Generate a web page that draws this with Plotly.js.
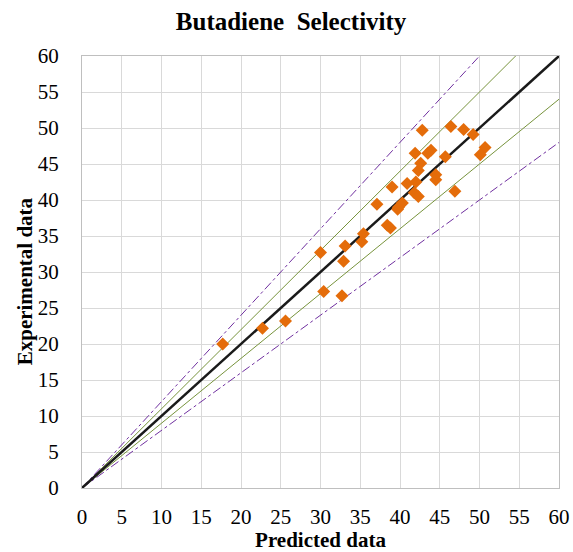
<!DOCTYPE html>
<html>
<head>
<meta charset="utf-8">
<script src="https://cdn.plot.ly/plotly-3.0.1.min.js"></script>
<style>html,body{margin:0;padding:0;background:#fff;}#chart{width:573px;height:552px;}</style>
</head>
<body>
<div id="chart"></div>
<script>
const predicted = [17.7, 22.7, 25.6, 30.0, 30.4, 32.7, 32.9, 33.1, 35.2, 35.4,
  37.1, 38.4, 38.8, 39.0, 39.7, 39.8, 40.3, 40.9, 42.0, 41.8,
  42.3, 42.3, 42.6, 41.9, 43.5, 43.9, 42.8, 44.5, 44.5, 45.7,
  46.4, 48.0, 49.2, 50.7, 50.1, 46.9];
const experimental = [20.0, 22.2, 23.2, 32.7, 27.3, 26.7, 31.5, 33.6, 34.2, 35.3,
  39.4, 36.5, 36.1, 41.8, 38.7, 39.0, 39.6, 42.3, 42.5, 41.0,
  40.5, 44.1, 45.1, 46.5, 46.5, 46.9, 49.7, 43.5, 42.8, 46.0,
  50.2, 49.8, 49.1, 47.3, 46.3, 41.2];
const lineX = [0, 60];
const idealFactor = 1.0;
const band10 = [1.1, 0.9];
const band20 = [1.2, 0.8];
const tickVals = [0,5,10,15,20,25,30,35,40,45,50,55,60];

const serif = "Liberation Serif";
const traces = [];
band20.forEach(f => traces.push({x: lineX, y: lineX.map(v => v*f), mode:'lines', type:'scatter',
  line:{color:'#7030A0', width:1, dash:'dashdot'}, hoverinfo:'skip', showlegend:false}));
band10.forEach(f => traces.push({x: lineX, y: lineX.map(v => v*f), mode:'lines', type:'scatter',
  line:{color:'#77933C', width:1}, hoverinfo:'skip', showlegend:false}));
traces.push({x: lineX, y: lineX.map(v => v*idealFactor), mode:'lines', type:'scatter',
  line:{color:'#1a1a1a', width:2.5}, showlegend:false});
traces.push({x: predicted, y: experimental, mode:'markers', type:'scatter',
  marker:{symbol:'diamond', color:'#E46C0A', size:10}, showlegend:false});

const axisCommon = {
  range:[0,60], tickvals: tickVals,
  showgrid:true, gridcolor:'#d9d9d9', gridwidth:1,
  zeroline:false, showline:true, linecolor:'#bfbfbf', linewidth:1, mirror:true,
  ticks:'outside', ticklen:0, tickcolor:'rgba(0,0,0,0)', fixedrange:true
};
const layout = {
  width:573, height:552,
  margin:{l:82, r:14, t:56, b:64},
  paper_bgcolor:'#fff', plot_bgcolor:'#fff',
  font:{family: serif, color:'#000'},
  title:{text:'<b>Butadiene  Selectivity</b>', x:0.508, xanchor:'center', y:0.962, yanchor:'middle',
    font:{family: serif, size:25, color:'#000'}},
  xaxis: Object.assign({}, axisCommon, {ticklabelstandoff:10,
    tickfont:{family: serif, size:21, color:'#000'},
    title:{text:'<b>Predicted data</b>', font:{family: serif, size:21, color:'#000'}, standoff:6}}),
  yaxis: Object.assign({}, axisCommon, {ticklabelstandoff:18,
    tickfont:{family: serif, size:21, color:'#000'}}),
  annotations:[{text:'<b>Experimental data</b>', xref:'paper', yref:'paper', x:-0.119, y:0.479,
    xanchor:'center', yanchor:'middle', textangle:-90, showarrow:false,
    font:{family: serif, size:21, color:'#000'}}],
  showlegend:false
};
Plotly.newPlot('chart', traces, layout, {displayModeBar:false, staticPlot:true});
</script>
</body>
</html>
